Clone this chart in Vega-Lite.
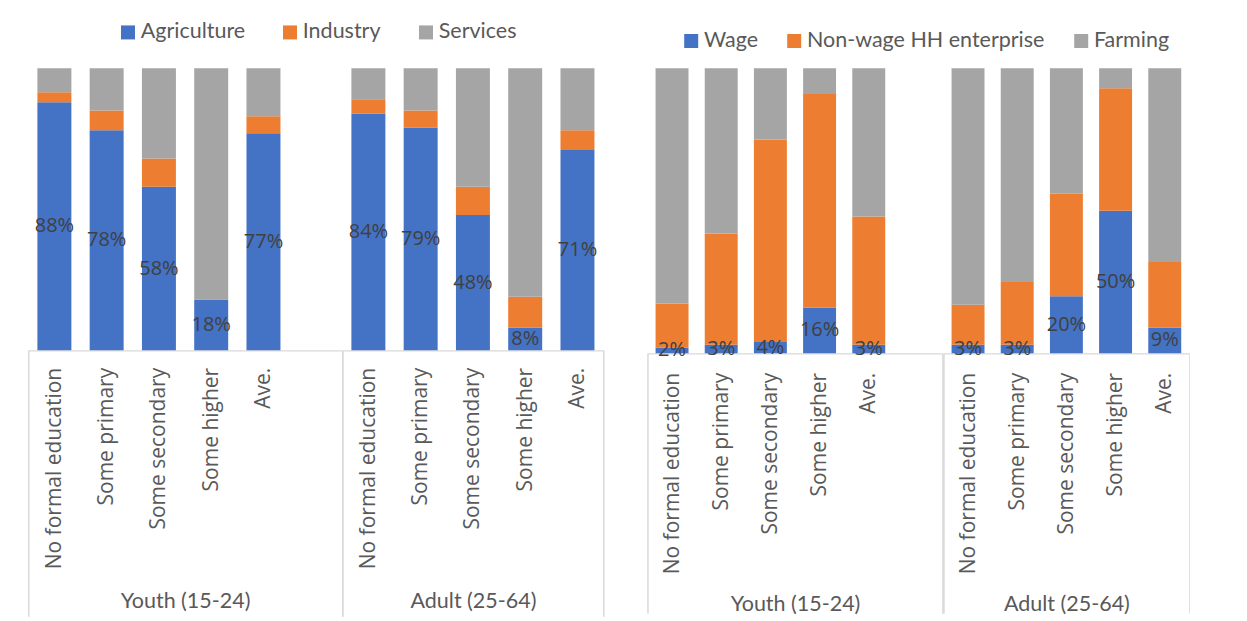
{
  "$schema": "https://vega.github.io/schema/vega-lite/v6.json",
  "background": "white",
  "padding": {"left": 17.25, "top": 21.3, "right": 0, "bottom": 0},
  "spacing": 32.2,
  "resolve": {"scale": {"color": "independent"}, "legend": {"color": "independent"}},
  "config": {
    "font": "Open Sans",
    "view": {"stroke": null},
    "legend": {
      "orient": "none",
      "direction": "horizontal",
      "title": null,
      "symbolType": "square",
      "symbolSize": 196,
      "symbolStrokeWidth": 0,
      "labelFont": "Lato",
      "labelFontSize": 21.5,
      "labelColor": "#595959",
      "labelOffset": 2,
      "labelLimit": 400
    },
    "axisX": {
      "labelAngle": -90,
      "labelFont": "Open Sans",
      "labelFontSize": 21,
      "labelColor": "#595959",
      "labelLimit": 400,
      "labelOverlap": false,
      "labelBound": false,
      "domainColor": "#d9d9d9",
      "domainWidth": 1.3,
      "tickBand": "extent",
      "tickColor": "#d9d9d9",
      "tickWidth": 1.5,
      "titleFont": "Lato",
      "titleFontSize": 21.5,
      "titleFontWeight": "normal",
      "titleColor": "#595959",
      "titleBaseline": "middle"
    }
  },
  "datasets": {
    "sectors": [
      {"age": "Youth (15-24)", "edu": "No formal education", "sector": "Agriculture", "share": 0.88},
      {"age": "Youth (15-24)", "edu": "No formal education", "sector": "Industry", "share": 0.035},
      {"age": "Youth (15-24)", "edu": "No formal education", "sector": "Services", "share": 0.085},
      {"age": "Youth (15-24)", "edu": "Some primary", "sector": "Agriculture", "share": 0.78},
      {"age": "Youth (15-24)", "edu": "Some primary", "sector": "Industry", "share": 0.07},
      {"age": "Youth (15-24)", "edu": "Some primary", "sector": "Services", "share": 0.15},
      {"age": "Youth (15-24)", "edu": "Some secondary", "sector": "Agriculture", "share": 0.58},
      {"age": "Youth (15-24)", "edu": "Some secondary", "sector": "Industry", "share": 0.10},
      {"age": "Youth (15-24)", "edu": "Some secondary", "sector": "Services", "share": 0.32},
      {"age": "Youth (15-24)", "edu": "Some higher", "sector": "Agriculture", "share": 0.18},
      {"age": "Youth (15-24)", "edu": "Some higher", "sector": "Industry", "share": 0.0},
      {"age": "Youth (15-24)", "edu": "Some higher", "sector": "Services", "share": 0.82},
      {"age": "Youth (15-24)", "edu": "Ave.", "sector": "Agriculture", "share": 0.77},
      {"age": "Youth (15-24)", "edu": "Ave.", "sector": "Industry", "share": 0.06},
      {"age": "Youth (15-24)", "edu": "Ave.", "sector": "Services", "share": 0.17},
      {"age": "Youth (15-24)", "edu": "", "sector": "Services", "share": 0},
      {"age": "Adult (25-64)", "edu": "No formal education", "sector": "Agriculture", "share": 0.84},
      {"age": "Adult (25-64)", "edu": "No formal education", "sector": "Industry", "share": 0.05},
      {"age": "Adult (25-64)", "edu": "No formal education", "sector": "Services", "share": 0.11},
      {"age": "Adult (25-64)", "edu": "Some primary", "sector": "Agriculture", "share": 0.79},
      {"age": "Adult (25-64)", "edu": "Some primary", "sector": "Industry", "share": 0.06},
      {"age": "Adult (25-64)", "edu": "Some primary", "sector": "Services", "share": 0.15},
      {"age": "Adult (25-64)", "edu": "Some secondary", "sector": "Agriculture", "share": 0.48},
      {"age": "Adult (25-64)", "edu": "Some secondary", "sector": "Industry", "share": 0.10},
      {"age": "Adult (25-64)", "edu": "Some secondary", "sector": "Services", "share": 0.42},
      {"age": "Adult (25-64)", "edu": "Some higher", "sector": "Agriculture", "share": 0.08},
      {"age": "Adult (25-64)", "edu": "Some higher", "sector": "Industry", "share": 0.11},
      {"age": "Adult (25-64)", "edu": "Some higher", "sector": "Services", "share": 0.81},
      {"age": "Adult (25-64)", "edu": "Ave.", "sector": "Agriculture", "share": 0.71},
      {"age": "Adult (25-64)", "edu": "Ave.", "sector": "Industry", "share": 0.07},
      {"age": "Adult (25-64)", "edu": "Ave.", "sector": "Services", "share": 0.22}
    ],
    "activities": [
      {"age": "Youth (15-24)", "edu": "No formal education", "activity": "Wage", "share": 0.02},
      {"age": "Youth (15-24)", "edu": "No formal education", "activity": "Non-wage HH enterprise", "share": 0.155},
      {"age": "Youth (15-24)", "edu": "No formal education", "activity": "Farming", "share": 0.825},
      {"age": "Youth (15-24)", "edu": "Some primary", "activity": "Wage", "share": 0.03},
      {"age": "Youth (15-24)", "edu": "Some primary", "activity": "Non-wage HH enterprise", "share": 0.39},
      {"age": "Youth (15-24)", "edu": "Some primary", "activity": "Farming", "share": 0.58},
      {"age": "Youth (15-24)", "edu": "Some secondary", "activity": "Wage", "share": 0.04},
      {"age": "Youth (15-24)", "edu": "Some secondary", "activity": "Non-wage HH enterprise", "share": 0.71},
      {"age": "Youth (15-24)", "edu": "Some secondary", "activity": "Farming", "share": 0.25},
      {"age": "Youth (15-24)", "edu": "Some higher", "activity": "Wage", "share": 0.16},
      {"age": "Youth (15-24)", "edu": "Some higher", "activity": "Non-wage HH enterprise", "share": 0.75},
      {"age": "Youth (15-24)", "edu": "Some higher", "activity": "Farming", "share": 0.09},
      {"age": "Youth (15-24)", "edu": "Ave.", "activity": "Wage", "share": 0.03},
      {"age": "Youth (15-24)", "edu": "Ave.", "activity": "Non-wage HH enterprise", "share": 0.45},
      {"age": "Youth (15-24)", "edu": "Ave.", "activity": "Farming", "share": 0.52},
      {"age": "Youth (15-24)", "edu": "", "activity": "Farming", "share": 0},
      {"age": "Adult (25-64)", "edu": "No formal education", "activity": "Wage", "share": 0.03},
      {"age": "Adult (25-64)", "edu": "No formal education", "activity": "Non-wage HH enterprise", "share": 0.14},
      {"age": "Adult (25-64)", "edu": "No formal education", "activity": "Farming", "share": 0.83},
      {"age": "Adult (25-64)", "edu": "Some primary", "activity": "Wage", "share": 0.03},
      {"age": "Adult (25-64)", "edu": "Some primary", "activity": "Non-wage HH enterprise", "share": 0.22},
      {"age": "Adult (25-64)", "edu": "Some primary", "activity": "Farming", "share": 0.75},
      {"age": "Adult (25-64)", "edu": "Some secondary", "activity": "Wage", "share": 0.20},
      {"age": "Adult (25-64)", "edu": "Some secondary", "activity": "Non-wage HH enterprise", "share": 0.36},
      {"age": "Adult (25-64)", "edu": "Some secondary", "activity": "Farming", "share": 0.44},
      {"age": "Adult (25-64)", "edu": "Some higher", "activity": "Wage", "share": 0.50},
      {"age": "Adult (25-64)", "edu": "Some higher", "activity": "Non-wage HH enterprise", "share": 0.43},
      {"age": "Adult (25-64)", "edu": "Some higher", "activity": "Farming", "share": 0.07},
      {"age": "Adult (25-64)", "edu": "Ave.", "activity": "Wage", "share": 0.09},
      {"age": "Adult (25-64)", "edu": "Ave.", "activity": "Non-wage HH enterprise", "share": 0.23},
      {"age": "Adult (25-64)", "edu": "Ave.", "activity": "Farming", "share": 0.68}
    ]
  },
  "hconcat": [
    {
      "bounds": "flush",
      "spacing": 0,
      "hconcat": [
        {
          "data": {"name": "sectors"},
          "transform": [{"filter": "datum.age == 'Youth (15-24)'"}],
          "width": {"step": 52.27},
          "height": 282,
          "resolve": {"scale": {"y": "independent"}},
          "layer": [
            {
              "mark": {"type": "bar", "width": {"band": 0.65}},
              "encoding": {
                "x": {"field": "edu", "type": "nominal", "sort": null,
                  "scale": {"paddingInner": 0, "paddingOuter": 0},
                  "axis": {"title": "Youth (15-24)", "tickSize": 266, "labelPadding": -249, "titlePadding": 51,
                    "tickOpacity": {"condition": {"test": "datum.extra || datum.index == 1", "value": 1}, "value": 0}}},
                "y": {"field": "share", "type": "quantitative", "stack": "zero", "scale": {"domain": [0, 1]}, "axis": null},
                "color": {"field": "sector", "type": "nominal",
                  "scale": {"domain": ["Agriculture", "Industry", "Services"], "range": ["#4472C4", "#ED7D31", "#A5A5A5"]},
                  "legend": {"legendX": 89, "legendY": -47, "columnPadding": 34}},
                "order": {"field": "sector", "sort": "ascending"}
              }
            },
            {
              "transform": [{"filter": "datum.sector == 'Agriculture' && datum.share > 0"}],
              "mark": {"type": "text", "font": "Open Sans", "fontSize": 20, "color": "#404040", "baseline": "middle"},
              "encoding": {
                "x": {"field": "edu", "type": "nominal", "sort": null},
                "y": {"field": "share", "type": "quantitative", "stack": null, "scale": {"domain": [0, 2]}, "axis": null},
                "text": {"field": "share", "type": "quantitative", "format": ".0%"}
              }
            }
          ]
        },
        {
          "data": {"name": "sectors"},
          "transform": [{"filter": "datum.age == 'Adult (25-64)'"}],
          "width": {"step": 52.27},
          "height": 282,
          "resolve": {"scale": {"y": "independent"}},
          "layer": [
            {
              "mark": {"type": "bar", "width": {"band": 0.65}},
              "encoding": {
                "x": {"field": "edu", "type": "nominal", "sort": null,
                  "scale": {"paddingInner": 0, "paddingOuter": 0},
                  "axis": {"title": "Adult (25-64)", "tickSize": 266, "labelPadding": -249, "titlePadding": 51,
                    "tickOpacity": {"condition": {"test": "datum.extra || datum.index == 1", "value": 1}, "value": 0}}},
                "y": {"field": "share", "type": "quantitative", "stack": "zero", "scale": {"domain": [0, 1]}, "axis": null},
                "color": {"field": "sector", "type": "nominal",
                  "scale": {"domain": ["Agriculture", "Industry", "Services"], "range": ["#4472C4", "#ED7D31", "#A5A5A5"]},
                  "legend": {"legendX": 89, "legendY": -47, "columnPadding": 34}},
                "order": {"field": "sector", "sort": "ascending"}
              }
            },
            {
              "transform": [{"filter": "datum.sector == 'Agriculture' && datum.share > 0"}],
              "mark": {"type": "text", "font": "Open Sans", "fontSize": 20, "color": "#404040", "baseline": "middle"},
              "encoding": {
                "x": {"field": "edu", "type": "nominal", "sort": null},
                "y": {"field": "share", "type": "quantitative", "stack": null, "scale": {"domain": [0, 2]}, "axis": null},
                "text": {"field": "share", "type": "quantitative", "format": ".0%"}
              }
            }
          ]
        }
      ]
    },
    {
      "bounds": "flush",
      "spacing": 0,
      "hconcat": [
        {
          "data": {"name": "activities"},
          "transform": [{"filter": "datum.age == 'Youth (15-24)'"}],
          "width": {"step": 49.18},
          "height": 285,
          "resolve": {"scale": {"y": "independent"}},
          "layer": [
            {
              "mark": {"type": "bar", "width": {"band": 0.67}},
              "encoding": {
                "x": {"field": "edu", "type": "nominal", "sort": null,
                  "scale": {"paddingInner": 0, "paddingOuter": 0},
                  "axis": {"title": "Youth (15-24)", "tickSize": 260, "labelPadding": -241, "titlePadding": 51.7,
                    "tickOpacity": {"condition": {"test": "datum.extra || datum.index == 1", "value": 1}, "value": 0}}},
                "y": {"field": "share", "type": "quantitative", "stack": "zero", "scale": {"domain": [0, 1]}, "axis": null},
                "color": {"field": "activity", "type": "nominal",
                  "scale": {"domain": ["Wage", "Non-wage HH enterprise", "Farming"], "range": ["#4472C4", "#ED7D31", "#A5A5A5"]},
                  "legend": {"legendX": 24.4, "legendY": -47, "padding": 8.6, "columnPadding": 25}},
                "order": {"field": "activity", "sort": "descending"}
              }
            },
            {
              "transform": [{"filter": "datum.activity == 'Wage' && datum.share > 0"}],
              "mark": {"type": "text", "font": "Open Sans", "fontSize": 20, "color": "#404040", "baseline": "middle"},
              "encoding": {
                "x": {"field": "edu", "type": "nominal", "sort": null},
                "y": {"field": "share", "type": "quantitative", "stack": null, "scale": {"domain": [0, 2]}, "axis": null},
                "text": {"field": "share", "type": "quantitative", "format": ".0%"}
              }
            }
          ]
        },
        {
          "data": {"name": "activities"},
          "transform": [{"filter": "datum.age == 'Adult (25-64)'"}],
          "width": {"step": 49.18},
          "height": 285,
          "resolve": {"scale": {"y": "independent"}},
          "layer": [
            {
              "mark": {"type": "bar", "width": {"band": 0.67}},
              "encoding": {
                "x": {"field": "edu", "type": "nominal", "sort": null,
                  "scale": {"paddingInner": 0, "paddingOuter": 0},
                  "axis": {"title": "Adult (25-64)", "tickSize": 260, "labelPadding": -241, "titlePadding": 51.7,
                    "tickOpacity": {"condition": {"test": "datum.extra || datum.index == 1", "value": 1}, "value": 0}}},
                "y": {"field": "share", "type": "quantitative", "stack": "zero", "scale": {"domain": [0, 1]}, "axis": null},
                "color": {"field": "activity", "type": "nominal",
                  "scale": {"domain": ["Wage", "Non-wage HH enterprise", "Farming"], "range": ["#4472C4", "#ED7D31", "#A5A5A5"]},
                  "legend": {"legendX": 24.4, "legendY": -47, "padding": 8.6, "columnPadding": 25}},
                "order": {"field": "activity", "sort": "descending"}
              }
            },
            {
              "transform": [{"filter": "datum.activity == 'Wage' && datum.share > 0"}],
              "mark": {"type": "text", "font": "Open Sans", "fontSize": 20, "color": "#404040", "baseline": "middle"},
              "encoding": {
                "x": {"field": "edu", "type": "nominal", "sort": null},
                "y": {"field": "share", "type": "quantitative", "stack": null, "scale": {"domain": [0, 2]}, "axis": null},
                "text": {"field": "share", "type": "quantitative", "format": ".0%"}
              }
            }
          ]
        }
      ]
    }
  ]
}
